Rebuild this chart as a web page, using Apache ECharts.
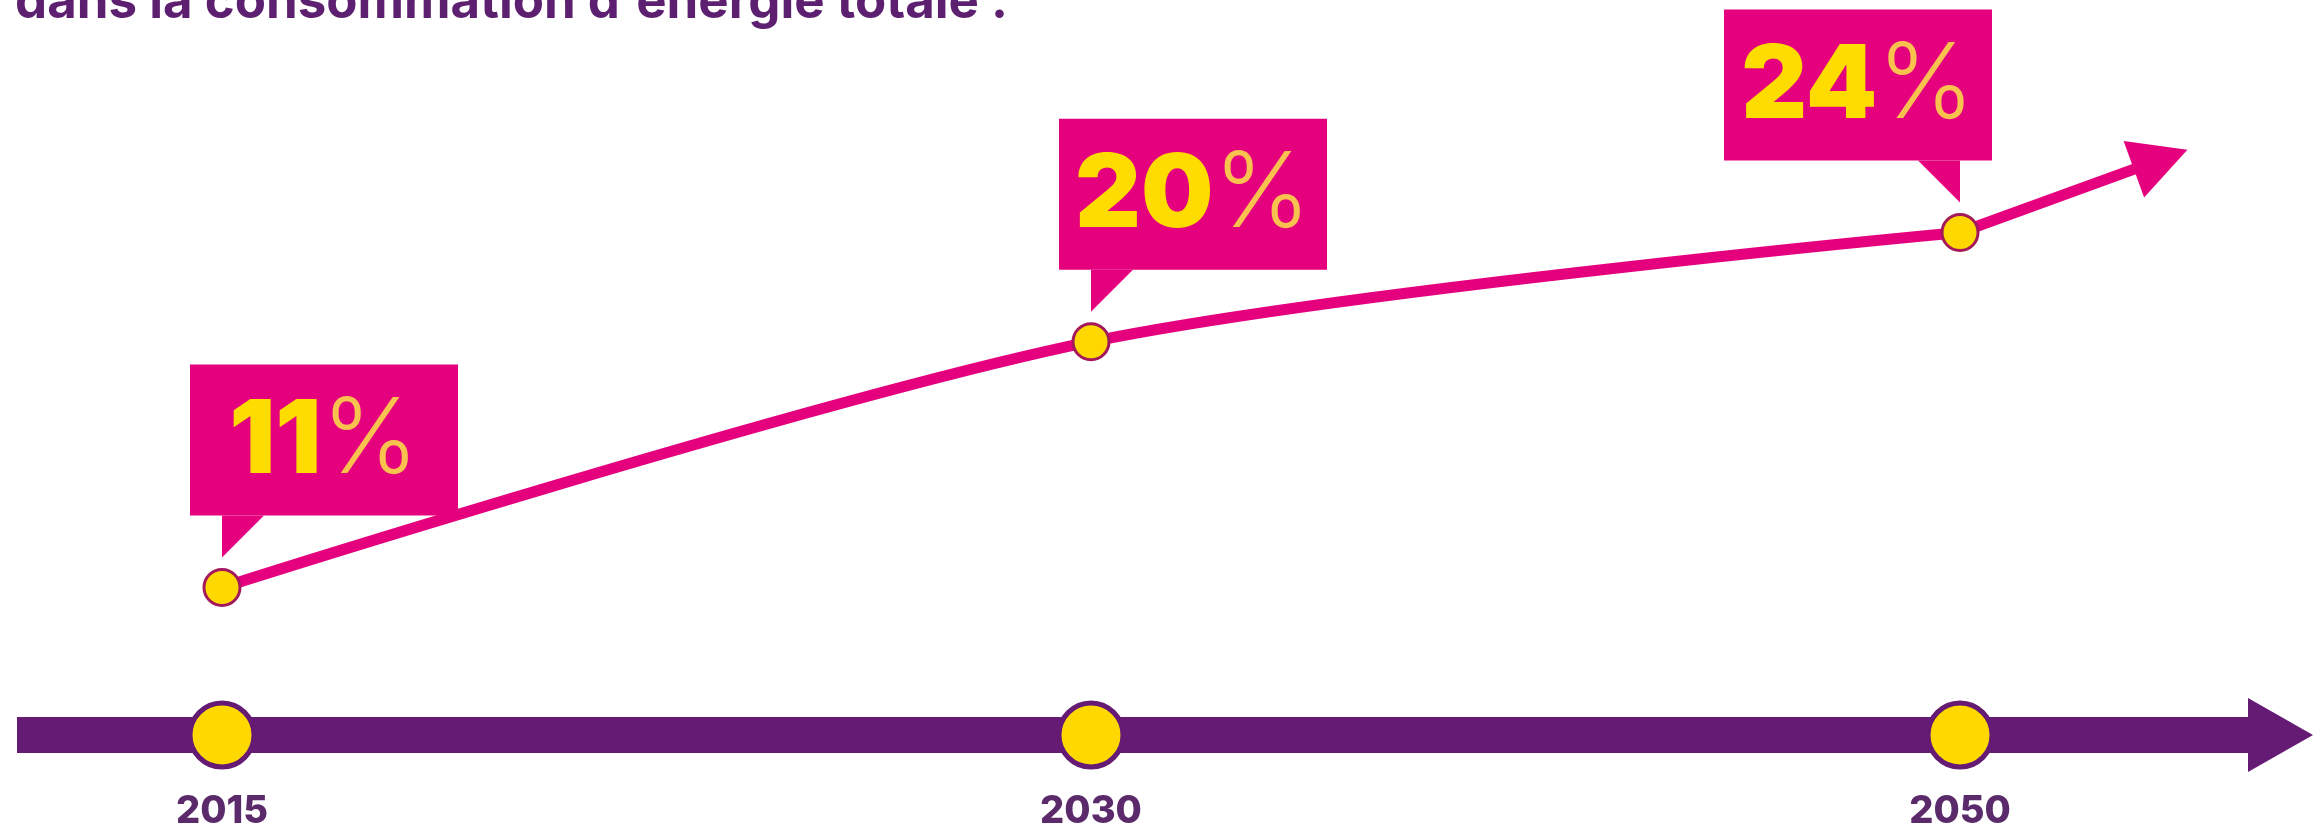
<!DOCTYPE html>
<html><head><meta charset="utf-8">
<script src="https://cdn.jsdelivr.net/npm/echarts@6/dist/echarts.min.js"></script>
<style>html,body{margin:0;padding:0;background:#fff}#c{width:2313px;height:831px}</style>
</head><body><div id="c"></div>
<script>
// ---- data ----
const titleText = "dans la consommation d'énergie totale :";
const years = ['2015', '2030', '2050'];
const shares = [11, 20, 24];
const unitLabel = '%';

// ---- styles ----
const PINK = '#e5007e', YEL = '#ffdc00', PCT = '#f9c24f', PURPLE = '#651b74', DARK = '#5b2a6b';
const FONT = 'Inter';

const idx = years.map((_, i) => i);
const lastIndex = years.length - 1;

function renderBubble(params, api) {
  const i = params.dataIndex;
  const pt = api.coord([api.value(0), api.value(1)]);
  const flip = i === lastIndex;
  const W = 268, H = 151, GAP = 72, TIP = 30, TW = 42, L = 32;
  const x0 = flip ? pt[0] + L - W : pt[0] - L;
  const yb = pt[1] - GAP;
  const tail = flip
    ? [[pt[0] - TW, yb], [pt[0], yb], [pt[0], pt[1] - TIP]]
    : [[pt[0], yb], [pt[0] + TW, yb], [pt[0], pt[1] - TIP]];
  const children = [
    { type: 'rect', shape: { x: x0, y: yb - H, width: W, height: H }, style: { fill: PINK } },
    { type: 'polygon', shape: { points: tail }, style: { fill: PINK } },
    {
      type: 'text', x: x0 + W / 2, y: yb - H / 2 + 2,
      style: {
        text: '{a|' + shares[i] + '}{b|' + unitLabel + '}',
        align: 'center', verticalAlign: 'middle',
        rich: {
          a: { fontSize: 102, fontWeight: 900, fill: YEL, color: YEL, fontFamily: FONT },
          b: { fontSize: 104, fontWeight: 300, fill: PCT, color: PCT, fontFamily: FONT }
        }
      }
    }
  ];
  if (flip) {
    // arrow continuing the curve beyond the last point
    const ang = 20 * Math.PI / 180;
    const dx = Math.cos(ang), dy = -Math.sin(ang);
    const nx = -dy, ny = dx;
    const bl = 185, tl = 242, hw = 30;
    const bx = pt[0] + dx * bl, by = pt[1] + dy * bl;
    children.push({ type: 'line', shape: { x1: pt[0], y1: pt[1], x2: bx + dx * 4, y2: by + dy * 4 },
      style: { stroke: PINK, lineWidth: 11 } });
    children.push({ type: 'polygon', shape: { points: [
      [pt[0] + dx * tl, pt[1] + dy * tl], [bx + nx * hw, by + ny * hw], [bx - nx * hw, by - ny * hw]] },
      style: { fill: PINK } });
  }
  return { type: 'group', children };
}

const chart = echarts.init(document.getElementById('c'));
chart.setOption({
  backgroundColor: '#ffffff',
  animation: false,
  title: {
    text: titleText, left: 10, top: -28,
    textStyle: { fontFamily: FONT, fontSize: 51, fontWeight: 'bold', color: '#5d1f6f' }
  },
  grid: { left: 17, right: 32.5, top: 68.6, bottom: 96 },
  xAxis: {
    type: 'value', min: -0.2359, max: 2.3688, position: 'bottom',
    splitLine: { show: false },
    axisTick: { show: false },
    axisLine: {
      show: true, onZero: false,
      symbol: ['none', 'triangle'], symbolSize: [74, 65],
      lineStyle: { color: PURPLE, width: 36, cap: 'butt' }
    },
    axisLabel: {
      customValues: idx,
      formatter: v => years[Math.round(v)],
      margin: 58, fontSize: 38, fontWeight: 800, color: DARK, fontFamily: FONT
    }
  },
  yAxis: [
    { type: 'value', min: 5.6, max: 30, show: false },
    { type: 'value', min: 0, max: 1, show: false }
  ],
  series: [
    {
      type: 'custom', z: 2, silent: true,
      renderItem: renderBubble,
      data: idx.map(i => [i, shares[i]])
    },
    {
      type: 'line', z: 3, smooth: 0.3,
      data: idx.map(i => [i, shares[i]]),
      lineStyle: { color: PINK, width: 11 },
      symbol: 'circle', symbolSize: 36,
      itemStyle: { color: '#ffd800', borderColor: '#a3195b', borderWidth: 3 },
      label: { show: false }
    },
    {
      type: 'scatter', yAxisIndex: 1, z: 4,
      data: idx.map(i => [i, 0]),
      symbol: 'circle', symbolSize: 64,
      itemStyle: { color: '#ffd800', borderColor: PURPLE, borderWidth: 5, opacity: 1 }
    }
  ]
});
</script>
</body></html>
